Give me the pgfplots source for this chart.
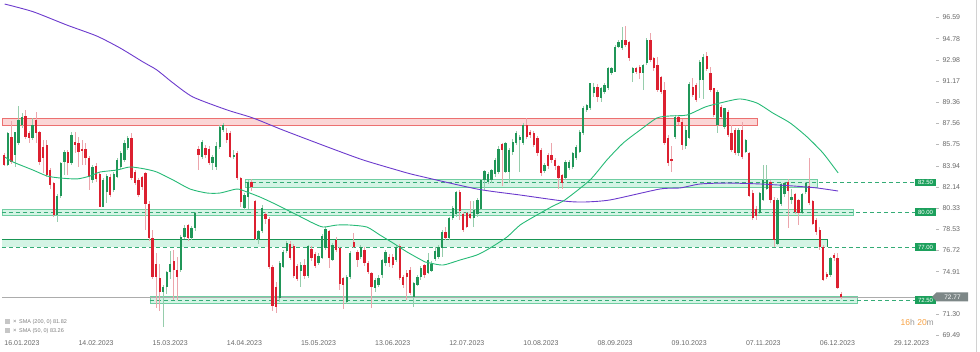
\documentclass[border=0pt]{standalone}
\usepackage{pgfplots}
\usepackage{pgfplotstable}
\pgfplotsset{compat=1.18}
\usepackage{fontspec}
\setmainfont{Liberation Sans}
\definecolor{cG}{RGB}{32,150,88}
\definecolor{cR}{RGB}{220,32,48}
\definecolor{wG}{RGB}{150,205,172}
\definecolor{wR}{RGB}{236,165,172}
\definecolor{smaP}{RGB}{108,58,205}
\definecolor{smaG}{RGB}{38,186,118}
\definecolor{zoneF}{RGB}{212,244,229}
\definecolor{zoneB}{RGB}{112,206,162}
\definecolor{zoneD}{RGB}{52,172,118}
\definecolor{zoneS}{RGB}{25,150,85}
\definecolor{redF}{RGB}{251,214,214}
\definecolor{redB}{RGB}{236,112,112}
\definecolor{tickc}{RGB}{105,105,105}
\definecolor{lblG}{RGB}{28,160,92}
\definecolor{priceG}{RGB}{125,135,135}
\definecolor{orng}{RGB}{247,160,65}

\pgfplotstableread{
i o h l c
-5 84.86 85.0 83.9 84.01
-4 84.01 86.85 83.9 86.71
-3 86.37 87.78 84.1 84.29
-2 84.86 86.85 83.87 86.8
-1 85.86 89.04 85.7 87.84
0 87.42 88.4 87.2 88.13
1 88.2 88.7 86.2 86.43
2 86.71 86.9 85.9 86.28
3 86.28 87.98 86.1 87.42
4 87.84 88.55 85.86 86.71
5 86.85 86.9 84.0 84.29
6 85.57 86.14 83.3 84.58
7 85.72 86.14 83.0 83.16
8 83.58 83.75 82.0 82.3
9 82.45 82.6 79.6 79.75
10 79.75 81.5 79.18 81.37
11 81.37 84.3 81.2 84.15
12 84.29 85.3 83.16 85.14
13 85.14 85.3 83.16 84.15
14 84.15 86.85 84.0 86.57
15 86.0 86.85 85.0 85.72
16 85.86 86.43 83.87 85.14
17 85.35 86.14 84.01 85.29
18 85.35 85.9 84.0 84.58
19 84.6 84.8 81.9 83.0
20 82.73 84.0 82.5 83.87
21 83.92 84.15 82.55 82.8
22 83.25 83.4 80.4 80.45
23 80.46 82.9 80.4 82.73
24 81.7 83.2 80.8 83.07
25 82.96 83.2 81.3 81.45
26 81.87 83.4 81.7 83.25
27 83.0 84.6 82.9 84.43
28 83.87 85.2 83.7 85.06
29 84.43 86.1 84.3 85.9
30 85.42 86.5 85.3 86.28
31 86.28 86.71 82.7 82.9
32 83.44 83.6 82.3 82.45
33 82.73 82.9 81.3 81.45
34 82.96 83.1 81.9 82.1
35 83.3 83.4 78.5 80.7
36 80.7 80.9 77.5 77.8
37 77.8 78.5 74.3 74.5
38 75.6 76.5 71.8 74.5
39 74.35 75.6 71.6 73.15
40 73.2 73.8 70.2 73.6
41 73.64 75.0 73.0 74.86
42 74.86 76.7 74.3 75.6
43 75.86 76.8 72.5 75.06
44 75.06 76.2 72.5 74.5
45 75.06 78.0 74.9 77.9
46 77.9 78.9 77.7 78.6
47 78.9 79.0 77.5 77.76
48 77.76 78.8 77.6 78.61
49 78.61 80.0 78.4 79.9
50 85.35 85.6 83.6 84.86
51 84.7 86.1 84.5 86.0
52 85.43 85.7 84.6 84.86
53 85.35 85.6 84.0 84.15
54 84.15 84.9 83.6 84.72
55 83.87 86.0 83.6 85.63
56 85.57 87.42 85.4 87.28
57 86.99 87.6 86.8 87.42
58 86.71 87.2 85.9 86.14
59 86.71 86.9 84.6 84.72
60 84.7 85.3 84.5 84.86
61 85.0 85.2 82.7 82.87
62 82.87 83.0 80.4 80.89
63 80.3 81.6 80.2 81.45
64 81.31 82.7 80.3 82.59
65 82.59 82.8 81.8 82.16
66 80.9 81.0 77.6 77.7
67 77.7 78.5 77.3 78.4
68 78.4 80.6 78.2 80.37
69 79.83 80.0 79.0 79.4
70 79.4 79.6 75.1 75.3
71 75.3 75.5 71.6 72.0
72 73.6 74.0 71.4 71.9
73 72.64 75.8 72.3 75.63
74 75.34 76.8 75.2 76.62
75 76.7 77.5 76.5 77.38
76 77.24 77.5 75.9 76.1
77 77.1 77.3 74.4 74.55
78 75.4 75.6 74.1 74.26
79 74.98 75.7 73.64 75.5
80 75.5 76.0 74.3 74.55
81 74.55 77.2 74.4 77.1
82 76.81 77.1 75.8 76.1
83 76.4 76.6 75.2 75.4
84 75.67 76.5 75.5 76.24
85 76.1 78.1 76.0 77.96
86 76.95 78.75 76.8 78.53
87 78.39 78.5 75.2 76.1
88 75.91 77.4 75.8 77.19
89 77.6 77.9 76.6 76.8
90 76.9 77.0 73.35 73.9
91 74.35 74.5 71.7 73.78
92 72.36 74.6 72.2 74.49
93 74.49 76.7 74.3 76.48
94 77.47 78.18 76.9 77.05
95 76.62 76.8 75.34 75.91
96 76.2 77.2 76.0 77.05
97 76.76 77.0 75.4 75.63
98 75.63 75.8 74.7 74.92
99 74.77 74.9 71.8 73.64
100 73.5 74.4 73.2 74.2
101 73.78 74.6 73.6 74.35
102 74.63 76.0 74.4 75.91
103 75.63 76.8 75.4 76.62
104 76.2 76.4 75.3 75.63
105 76.2 76.4 75.2 75.48
106 75.91 77.2 75.7 77.05
107 77.1 77.3 74.2 74.35
108 74.49 74.6 73.5 73.78
109 74.83 75.1 72.5 74.49
110 75.06 75.3 72.9 73.07
111 72.78 74.0 71.93 73.92
112 73.78 74.6 73.7 74.49
113 74.49 75.4 74.2 75.2
114 75.5 75.6 74.4 74.6
115 74.8 76.5 74.7 75.9
116 75.0 75.8 74.9 75.6
117 76.0 77.0 75.8 76.7
118 76.2 77.2 76.0 77.05
119 76.9 78.5 76.2 78.3
120 78.3 78.75 77.6 77.76
121 77.76 79.6 77.6 79.5
122 79.5 80.5 79.3 80.3
123 79.8 81.8 79.6 81.7
124 81.7 81.9 79.3 80.1
125 79.8 80.0 78.3 78.5
126 79.9 80.0 78.6 78.7
127 79.8 80.9 79.4 79.5
128 79.5 80.9 78.75 80.2
129 79.8 81.2 79.6 81.0
130 80.3 82.8 80.2 82.7
131 82.7 83.6 81.9 83.5
132 82.6 83.4 82.4 83.2
133 82.7 83.7 82.5 83.6
134 83.2 84.6 83.0 84.4
135 83.4 85.6 83.2 85.4
136 85.8 85.9 82.2 85.3
137 83.4 86.0 83.3 85.9
138 83.4 85.5 82.45 85.3
139 85.1 86.2 84.9 86.0
140 85.9 86.9 85.7 86.7
141 86.1 86.6 83.44 86.4
142 85.9 87.6 85.7 87.42
143 87.42 88.0 86.2 86.4
144 86.85 87.0 86.3 86.6
145 86.7 86.9 85.5 85.7
146 86.3 86.5 84.8 85.0
147 85.3 85.5 83.1 83.3
148 83.5 84.2 83.3 84.0
149 84.9 85.0 83.7 83.9
150 84.9 85.9 84.2 84.4
151 84.4 84.6 83.6 83.9
152 83.9 84.0 82.0 82.9
153 83.15 83.2 82.0 82.45
154 82.9 84.4 82.7 84.29
155 83.73 84.4 83.6 84.29
156 83.87 85.1 83.7 85.0
157 84.58 85.7 84.4 85.57
158 85.15 87.0 85.0 86.85
159 86.71 89.0 86.6 88.84
160 88.7 89.2 88.5 89.12
161 88.84 91.0 88.7 90.97
162 90.12 90.97 89.8 90.69
163 90.69 90.9 89.4 89.83
164 89.69 90.7 89.4 90.55
165 90.26 91.0 90.1 90.83
166 90.55 92.4 90.4 92.25
167 91.82 92.4 91.7 92.25
168 91.96 94.2 91.9 94.1
169 94.1 94.7 94.0 94.52
170 93.95 95.8 93.8 94.66
171 94.66 95.86 94.1 94.24
172 94.52 94.6 92.9 93.1
173 91.82 92.4 91.1 92.25
174 92.25 92.4 91.8 91.96
175 92.39 92.5 91.3 91.82
176 91.82 92.6 90.4 92.53
177 92.67 94.8 92.5 94.66
178 94.66 95.23 92.8 92.96
179 93.1 93.2 92.0 92.25
180 92.53 93.24 90.2 90.4
181 91.54 91.6 90.1 90.26
182 90.4 91.1 85.7 85.85
183 86.3 86.6 83.9 84.2
184 84.5 85.6 83.45 84.4
185 86.4 88.3 86.2 88.1
186 88.13 88.3 87.4 87.7
187 87.7 87.9 85.3 85.7
188 85.6 87.3 85.4 87.0
189 86.3 91.1 86.2 90.9
190 90.69 91.4 89.8 89.97
191 90.83 91.0 89.4 89.55
192 91.26 92.96 89.7 92.82
193 91.26 93.5 89.6 93.24
194 93.3 93.67 92.0 92.2
195 91.82 92.39 90.2 90.4
196 90.54 90.6 88.1 88.27
197 87.42 90.4 86.7 90.26
198 88.98 89.1 88.0 88.13
199 87.28 88.9 87.1 88.84
200 88.55 88.7 86.4 86.57
201 86.71 87.42 85.1 85.29
202 87.0 87.2 84.9 85.0
203 85.0 87.2 84.8 87.0
204 87.0 87.7 84.5 84.72
205 85.15 86.2 85.0 86.14
206 85.0 85.1 81.3 81.4
207 81.6 81.9 79.3 79.5
208 80.3 80.5 79.3 79.7
209 79.9 81.7 79.8 81.6
210 81.0 84.0 80.9 82.7
211 82.0 84.0 81.9 82.7
212 82.6 82.7 80.8 81.0
213 81.0 81.3 77.0 77.6
214 77.3 81.2 77.2 81.0
215 80.7 82.5 80.5 82.4
216 81.5 82.6 81.3 82.45
217 82.6 82.8 78.6 81.75
218 81.0 82.0 80.7 81.3
219 81.5 81.6 79.8 80.0
220 81.0 81.1 78.9 79.9
221 79.9 81.6 79.8 81.5
222 81.7 82.6 81.5 82.5
223 82.2 84.6 80.6 80.75
224 80.9 81.0 78.9 79.0
225 79.3 79.5 78.0 78.3
226 78.5 78.7 76.8 77.0
227 77.05 77.2 74.1 74.2
228 74.7 74.9 74.3 74.5
229 74.6 76.2 74.5 76.1
230 76.3 76.5 75.8 76.1
231 76.1 76.5 73.4 73.5
232 73.0 73.2 72.6 72.77
}\candles

\pgfplotstableread{
x y
-4.9 97.73
3.1 97.08
12.7 95.94
21.2 95.0
27.8 93.98
34.3 92.79
38.2 92.11
42.8 91.0
48.4 89.81
58.1 88.7
65.4 88.02
73.9 86.99
87.3 85.46
96.6 84.44
106.2 83.58
111.3 83.16
128.9 81.96
141.1 81.45
153.3 80.94
158.9 80.85
166.6 81.03
180.7 81.96
186.4 82.05
192.1 82.39
199.7 82.47
209.1 82.39
218.4 82.22
225.2 82.05
231.2 81.79
}\smaA

\pgfplotstableread{
x y
-4.8 84.68
-2.5 84.26
3.1 83.58
7.1 83.07
10.8 82.9
15.6 82.82
19.3 83.07
22.1 83.41
26.9 83.58
30.6 83.84
34.8 83.67
38.2 83.41
42.8 82.73
47.6 81.96
52.4 81.62
56.1 81.62
60.9 81.96
63.7 81.71
67.4 81.28
71.1 80.77
74.5 80.26
77.9 79.75
82.4 79.06
85.3 78.72
89.2 78.89
92.9 78.89
97.7 78.72
101.4 78.04
105.1 77.36
109.1 76.59
114.2 75.74
115.6 75.65
119.3 75.48
124.1 75.91
128.9 76.34
132.6 76.93
137.4 77.87
141.1 78.89
145.9 79.75
150.4 80.51
153.8 81.03
160.9 82.73
165.7 84.44
170.3 85.88
175.1 86.99
179.9 88.02
183.6 88.19
188.4 88.27
193.5 88.95
197.7 89.29
203.4 89.64
208.2 89.29
212.7 88.44
217.6 87.59
222.4 86.4
226.9 85.03
231.2 83.33
}\smaB

\begin{document}
\begin{tikzpicture}
\begin{axis}[name=ax,
  scale only axis, width=936pt, height=336pt,
  xmin=-6.23, xmax=258.92, ymin=69.431, ymax=98.075,
  clip=false,
  axis line style={draw=none},
  xtick={0,21,42,63,84,105,126,147,168,189,210,231,252},
  xticklabels={16.01.2023,14.02.2023,15.03.2023,14.04.2023,15.05.2023,13.06.2023,12.07.2023,10.08.2023,08.09.2023,09.10.2023,07.11.2023,06.12.2023,29.12.2023},
  xtick style={draw=none},
  xticklabel style={font=\fontsize{7}{8}\selectfont, text=tickc, yshift=1.5pt},
  ytick={69.49,71.30,74.91,76.72,78.53,80.33,82.14,83.94,85.75,87.56,89.36,91.17,92.98,94.78,96.59},
  ytick pos=right, yticklabel pos=right,
  tick align=outside, major tick length=3pt,
  ytick style={draw=gray!55, line width=0.5pt},
  yticklabel style={font=\fontsize{7}{8}\selectfont, text=tickc,
    /pgf/number format/fixed, /pgf/number format/precision=2,
    /pgf/number format/fixed zerofill},
  /pgf/number format/assume math mode=true,
]
% zones
\fill[redF, draw=redB, line width=0.6pt] (axis cs:-5.67,87.36) rectangle (axis cs:208.2,88.0);
\fill[zoneF, draw=zoneB, line width=0.6pt] (axis cs:63.2,82.13) rectangle (axis cs:225.2,82.79);
\fill[zoneF, draw=zoneB, line width=0.6pt] (axis cs:-5.67,79.72) rectangle (axis cs:235.4,80.23);
\fill[zoneF] (axis cs:-5.67,77.0) rectangle (axis cs:228.05,77.67);
\draw[zoneS, line width=0.8pt] (axis cs:-5.67,77.67) -- (axis cs:228.05,77.67) -- (axis cs:228.05,77.0);
\fill[zoneF, draw=zoneB, line width=0.6pt] (axis cs:36.26,72.2) rectangle (axis cs:236.54,72.8);
\draw[gray!65, line width=0.6pt] (axis cs:-5.67,72.77) -- (axis cs:257.8,72.77);
\draw[zoneD, line width=0.8pt, dash pattern=on 4pt off 3pt] (axis cs:63.2,82.5) -- (axis cs:252.97,82.5);
\draw[zoneD, line width=0.8pt, dash pattern=on 4pt off 3pt] (axis cs:-5.67,80.0) -- (axis cs:252.97,80.0);
\draw[zoneD, line width=0.8pt, dash pattern=on 4pt off 3pt] (axis cs:-5.67,77.0) -- (axis cs:252.97,77.0);
\draw[zoneD, line width=0.8pt, dash pattern=on 4pt off 3pt] (axis cs:36.26,72.5) -- (axis cs:252.97,72.5);

% wicks
\addplot[forget plot, draw=none, mark=none,
  restrict expr to domain={\thisrow{c}-\thisrow{o}}{0:100},
  error bars/.cd, y dir=both, y explicit, error mark=none,
  error bar style={color=wG, line width=0.8pt}]
  table[x=i, y expr={(\thisrow{h}+\thisrow{l})/2}, y error expr={(\thisrow{h}-\thisrow{l})/2}] {\candles};
\addplot[forget plot, draw=none, mark=none,
  restrict expr to domain={\thisrow{c}-\thisrow{o}}{-100:-0.0001},
  error bars/.cd, y dir=both, y explicit, error mark=none,
  error bar style={color=wR, line width=0.8pt}]
  table[x=i, y expr={(\thisrow{h}+\thisrow{l})/2}, y error expr={(\thisrow{h}-\thisrow{l})/2}] {\candles};
% bodies
\addplot[forget plot, draw=none, mark=none,
  restrict expr to domain={\thisrow{c}-\thisrow{o}}{0:100},
  error bars/.cd, y dir=both, y explicit, error mark=none,
  error bar style={color=cG, line width=2.3pt}]
  table[x=i, y expr={(\thisrow{o}+\thisrow{c})/2}, y error expr={max(abs(\thisrow{c}-\thisrow{o})/2,0.06)}] {\candles};
\addplot[forget plot, draw=none, mark=none,
  restrict expr to domain={\thisrow{c}-\thisrow{o}}{-100:-0.0001},
  error bars/.cd, y dir=both, y explicit, error mark=none,
  error bar style={color=cR, line width=2.3pt}]
  table[x=i, y expr={(\thisrow{o}+\thisrow{c})/2}, y error expr={max(abs(\thisrow{c}-\thisrow{o})/2,0.06)}] {\candles};

% SMAs
\addplot[smaP, line width=0.9pt, smooth, tension=0.4, mark=none] table {\smaA};
\addplot[smaG, line width=0.9pt, smooth, tension=0.4, mark=none] table {\smaB};
\end{axis}

\begin{scope}[shift={(ax.north west)}, x=1pt, y=-1pt]
  \draw[gray!35, line width=0.6pt] (976,0) -- (976,352);
  \foreach \yy/\lab in {182.7/82.50, 212.0/80.00, 247.2/77.00, 300.0/72.50} {
    \node[fill=lblG, text=white, font=\fontsize{6}{6}\selectfont, inner sep=0pt,
      minimum width=21pt, minimum height=7.5pt] at (925.5,\yy) {\lab};
  }
  \fill[priceG] (932,296.8) -- (936.5,292.3) -- (968,292.3) -- (968,301.3) -- (936.5,301.3) -- cycle;
  \node[text=white, font=\fontsize{6.5}{7}\selectfont, inner sep=0pt] at (952.5,296.8) {72.77};
  \node[anchor=east, font=\fontsize{8.5}{9}\selectfont, inner sep=0pt] at (934,322)
    {\textcolor{orng}{16}\textcolor{gray!80}{h} \textcolor{orng}{20}\textcolor{gray!80}{m}};
  \fill[gray!45] (5,319.5) rectangle (10,324);
  \node[font=\fontsize{6}{6}\selectfont, text=gray, inner sep=0pt] at (15,321.7) {×};
  \node[anchor=west, font=\fontsize{5.5}{6}\selectfont, text=gray, inner sep=0pt] at (19,321.7) {SMA (200, 0) 81.82};
  \fill[gray!45] (5,328.5) rectangle (10,333);
  \node[font=\fontsize{6}{6}\selectfont, text=gray, inner sep=0pt] at (15,330.7) {×};
  \node[anchor=west, font=\fontsize{5.5}{6}\selectfont, text=gray, inner sep=0pt] at (19,330.7) {SMA (50, 0) 83.26};
\end{scope}
\pgfresetboundingbox
\path[use as bounding box] (ax.north west) rectangle ++(980pt,-352pt);
\end{tikzpicture}
\end{document}
